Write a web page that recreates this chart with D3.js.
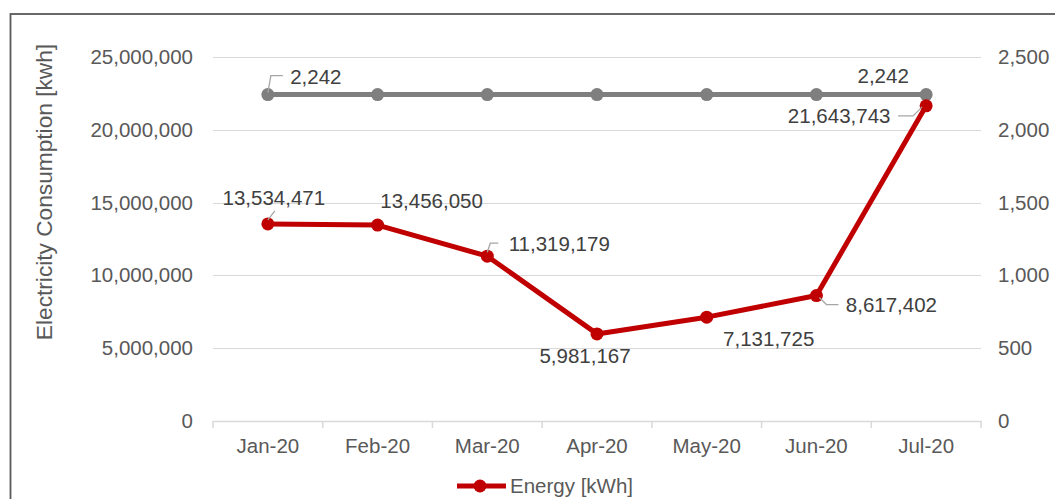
<!DOCTYPE html>
<html><head><meta charset="utf-8">
<script src="https://cdn.jsdelivr.net/npm/d3@7"></script>
<style>
html,body{margin:0;padding:0;background:#fff;}
svg{display:block;font-family:"Liberation Sans",Arial,sans-serif;}
</style></head>
<body><svg id="c" width="1055" height="499"></svg>
<script>
const categories = ["Jan-20","Feb-20","Mar-20","Apr-20","May-20","Jun-20","Jul-20"];
const energy = [13534471,13456050,11319179,5981167,7131725,8617402,21643743];
const secondary = [2242,2242,2242,2242,2242,2242,2242];
const leftTicks = [0,5000000,10000000,15000000,20000000,25000000];
const rightTicks = [0,500,1000,1500,2000,2500];
const yTitle = "Electricity Consumption [kwh]";
const legendLabel = "Energy [kWh]";

// label layout (offsets from the point, in px) – index -> [dx, dy, leader]
const energyLabelLayout = {
  0:{dx:6,dy:-26,leader:[[0,-4],[7,-13]]},
  1:{dx:54,dy:-24},
  2:{dx:72,dy:-12,leader:[[0,-4],[3,-13],[11,-13]]},
  3:{dx:-12,dy:22},
  4:{dx:62,dy:22},
  5:{dx:75,dy:9,leader:[[3,2],[10,9],[22,9]]},
  6:{dx:-87,dy:10,leader:[[-4,1],[-13,10],[-28,10]]}
};
const secLabelLayout = {
  0:{dx:48,dy:-18,leader:[[0,-2],[3,-19],[15,-19]]},
  6:{dx:-43,dy:-19}
};

const svg = d3.select("#c");
const L=213, R=981, T=57, B=421;
const x = d3.scaleBand().domain(categories).range([L,R]).padding(0);
const yL = d3.scaleLinear().domain([0,25000000]).range([B,T]);
const yR = d3.scaleLinear().domain([0,2500]).range([B,T]);
const fmt = d3.format(",");
const cx = d => x(d)+x.bandwidth()/2;

// outer border
svg.append("rect").attr("x",10.5).attr("y",14).attr("width",1100).attr("height",600)
  .attr("fill","none").attr("stroke","#595959").attr("stroke-width",1.8);

// gridlines
svg.append("g").selectAll("line").data(leftTicks.slice(1)).join("line")
  .attr("x1",L).attr("x2",R).attr("y1",d=>Math.round(yL(d))+0.5).attr("y2",d=>Math.round(yL(d))+0.5)
  .attr("stroke","#d9d9d9").attr("stroke-width",1);

// x axis
const xa = svg.append("g").attr("transform",`translate(0,${B})`)
  .call(d3.axisBottom(x).tickSize(0).tickPadding(17));
xa.select(".domain").attr("stroke","#d9d9d9").attr("stroke-width",1.5);
xa.selectAll("text").attr("font-size","20.5px").attr("fill","#595959").attr("font-family","Liberation Sans, Arial, sans-serif");
// tick marks at band boundaries
svg.append("g").selectAll("line").data(d3.range(categories.length+1)).join("line")
  .attr("x1",i=>L+i*x.bandwidth()).attr("x2",i=>L+i*x.bandwidth())
  .attr("y1",B).attr("y2",B+7).attr("stroke","#d9d9d9").attr("stroke-width",1.5);

// left axis
const la = svg.append("g").attr("transform",`translate(${L},0)`)
  .call(d3.axisLeft(yL).tickValues(leftTicks).tickFormat(fmt).tickSize(0).tickPadding(20));
la.select(".domain").remove();
la.selectAll("text").attr("font-size","20.5px").attr("fill","#595959").attr("font-family","Liberation Sans, Arial, sans-serif");

// right axis
const ra = svg.append("g").attr("transform",`translate(${R},0)`)
  .call(d3.axisRight(yR).tickValues(rightTicks).tickFormat(fmt).tickSize(0).tickPadding(17));
ra.select(".domain").remove();
ra.selectAll("text").attr("font-size","20.5px").attr("fill","#595959").attr("font-family","Liberation Sans, Arial, sans-serif");

// y title
svg.append("text").attr("transform","translate(52,192) rotate(-90)")
  .attr("text-anchor","middle").attr("font-size","22.7px").attr("fill","#595959").text(yTitle);

// secondary series (gray)
svg.append("path").datum(secondary)
  .attr("d",d3.line().x((d,i)=>cx(categories[i])).y(d=>yR(d)))
  .attr("fill","none").attr("stroke","#7f7f7f").attr("stroke-width",5);
svg.append("g").selectAll("circle").data(secondary).join("circle")
  .attr("cx",(d,i)=>cx(categories[i])).attr("cy",d=>yR(d)).attr("r",6.5).attr("fill","#7f7f7f");

// energy series (red)
svg.append("path").datum(energy)
  .attr("d",d3.line().x((d,i)=>cx(categories[i])).y(d=>yL(d)))
  .attr("fill","none").attr("stroke","#c00000").attr("stroke-width",5).attr("stroke-linejoin","round");
svg.append("g").selectAll("circle").data(energy).join("circle")
  .attr("cx",(d,i)=>cx(categories[i])).attr("cy",d=>yL(d)).attr("r",6.5).attr("fill","#c00000");

function labels(values, layout, yScale){
  Object.keys(layout).forEach(k=>{
    const i=+k, o=layout[k];
    const px=cx(categories[i]), py=yScale(values[i]);
    if(o.leader){
      svg.append("polyline").attr("points",o.leader.map(p=>[px+p[0],py+p[1]].join(",")).join(" "))
        .attr("fill","none").attr("stroke","#a6a6a6").attr("stroke-width",1.3);
    }
    svg.append("text").attr("x",px+o.dx).attr("y",py+o.dy).attr("dy","0.35em")
      .attr("text-anchor","middle").attr("font-size","20.5px").attr("fill","#404040")
      .text(fmt(values[i]));
  });
}
labels(secondary, secLabelLayout, yR);
labels(energy, energyLabelLayout, yL);

// legend
const lg = svg.append("g").attr("transform","translate(457,486)");
lg.append("line").attr("x1",0).attr("x2",49).attr("y1",0).attr("y2",0).attr("stroke","#c00000").attr("stroke-width",5);
lg.append("circle").attr("cx",23).attr("cy",0).attr("r",6.5).attr("fill","#c00000");
lg.append("text").attr("x",53).attr("y",0).attr("dy","0.35em").attr("font-size","20.5px").attr("fill","#595959").text(legendLabel);
</script></body></html>
